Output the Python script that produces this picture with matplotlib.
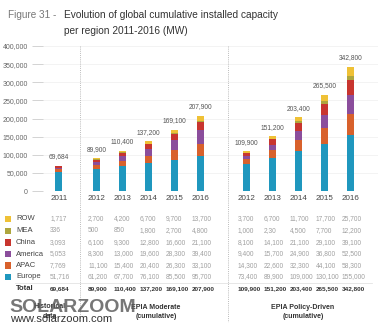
import matplotlib
matplotlib.use("Agg")
import matplotlib.pyplot as plt
import numpy as np
from matplotlib.transforms import blended_transform_factory
from matplotlib.patches import Rectangle

plt.rcParams['font.family'] = ['Liberation Sans', 'DejaVu Sans']

# data (MW)
regions = ["ROW", "MEA", "China", "America", "APAC", "Europe"]
colors = ["#efc136", "#aea63e", "#c8352f", "#8b4e9c", "#d8612c", "#1f97be"]

years_hist = ["2011"]
years_fc = ["2012", "2013", "2014", "2015", "2016"]

hist = {"ROW": [1717], "MEA": [336], "China": [3093], "America": [5053],
        "APAC": [7769], "Europe": [51716]}
hist_total = [69684]

moderate = {"ROW": [2700, 4200, 6700, 9700, 13700],
            "MEA": [500, 850, 1800, 2700, 4800],
            "China": [6100, 9300, 12800, 16600, 21100],
            "America": [8300, 13000, 19600, 28300, 39400],
            "APAC": [11100, 15400, 20400, 26300, 33100],
            "Europe": [61200, 67700, 76100, 85500, 95700]}
moderate_total = [89900, 110400, 137200, 169100, 207900]

policy = {"ROW": [3700, 6700, 11700, 17700, 25700],
          "MEA": [1000, 2300, 4500, 7700, 12200],
          "China": [8100, 14100, 21100, 29100, 39100],
          "America": [9400, 15700, 24900, 36800, 52500],
          "APAC": [14300, 22600, 32300, 44100, 58300],
          "Europe": [73400, 89900, 109000, 130100, 155000]}
policy_total = [109900, 151200, 203400, 265500, 342800]

# shown in the table as printed
mea_policy_labels = ["1,000", "2,30", "4,500", "7,700", "12,200"]

W, H = 382, 325
fig = plt.figure(figsize=(W / 100, H / 100), dpi=100)
fig.patch.set_facecolor("white")

def fx(px): return px / W
def fy(py): return 1 - py / H

ax = fig.add_axes([fx(43), fy(191), (378 - 43) / W, (191 - 46) / H])

groups = [(years_hist, hist, hist_total, -1.46),
          (years_fc, moderate, moderate_total, 0.0),
          (years_fc, policy, policy_total, 5.77)]

bw = 0.25
order = regions[::-1]   # bottom -> top: Europe ... ROW
col = dict(zip(regions, colors))
for yrs, d, tot, off in groups:
    x = off + np.arange(len(yrs))
    bottom = np.zeros(len(yrs))
    for r in order:
        v = np.array(d[r], dtype=float)
        ax.bar(x, v, bw, bottom=bottom, color=col[r], linewidth=0)
        bottom += v
    for xi, t in zip(x, tot):
        ax.annotate(f"{t:,}", (xi, t), xytext=(0, 4), textcoords="offset points",
                    ha="center", va="bottom", fontsize=4.8, color="#555555")

ax.set_xlim(-2.06, 10.83)
ax.set_ylim(0, 400000)
ax.set_yticks(np.arange(0, 400001, 50000))
ax.set_yticklabels([f"{v:,}" for v in range(0, 400001, 50000)], fontsize=5, color="#666666")
ax.tick_params(axis="y", length=8, width=0.6, color="#cccccc", pad=3)
ax.set_xticks([])
for s in ax.spines.values():
    s.set_visible(False)
ax.grid(axis="y", color="#eeeeee", lw=0.5)
ax.set_axisbelow(True)

# dotted separators
for xs in (-0.635, 5.06):
    ax.plot([xs, xs], [400000, 400000 - 400000 * (322 - 46) / 145], ls=(0, (1, 1.2)),
            color="#bbbbbb", lw=0.7, clip_on=False)

# title
fig.text(fx(8), fy(15), "Figure 31 -", fontsize=7.2, color="#777777", va="center")
fig.text(fx(64), fy(15), "Evolution of global cumulative installed capacity",
         fontsize=7.3, color="#333333", va="center")
fig.text(fx(64), fy(31), "per region 2011-2016 (MW)", fontsize=7.3, color="#333333", va="center")

# table
tr = blended_transform_factory(ax.transData, fig.transFigure)
shift = 8.5 / 26
row_y = [219, 230.7, 242.3, 254, 265.5, 277]
total_y = 288.7

for i, r in enumerate(regions):
    fig.patches.append(Rectangle((fx(4.5), fy(row_y[i] + 3.3)), 6.5 / W, 6.5 / H,
                                 transform=fig.transFigure, color=col[r], lw=0))
    fig.text(fx(16), fy(row_y[i]), r, fontsize=5.5, color="#444444", va="center")
fig.text(fx(16), fy(total_y), "Total", fontsize=5.5, color="#333333", va="center",
         fontweight="bold")

for yrs, d, tot, off in groups:
    x = off + np.arange(len(yrs))
    for j, xi in enumerate(x):
        fig.text(xi - shift, fy(199), yrs[j], transform=tr, fontsize=5.8,
                 color="#444444", va="center")
        for i, r in enumerate(regions):
            lab = f"{d[r][j]:,}"
            if d is policy and r == "MEA":
                lab = mea_policy_labels[j]
            fig.text(xi - shift, fy(row_y[i]), lab, transform=tr, fontsize=4.8,
                     color="#a0a0a0", va="center")
        fig.text(xi - shift, fy(total_y), f"{tot[j]:,}", transform=tr, fontsize=4.6,
                 color="#333333", va="center", fontweight="bold")

fig.add_artist(plt.Line2D([fx(15), fx(372)], [fy(283), fy(283)], color="#dddddd", lw=0.5))

# group captions
fig.text(fx(50), fy(307), "Historical", fontsize=5, color="#333333", ha="center",
         va="center", fontweight="bold")
fig.text(fx(50), fy(317), "data", fontsize=5, color="#333333", ha="center",
         va="center", fontweight="bold")
fig.text(fx(156), fy(312), "EPIA Moderate\n(cumulative)", fontsize=5, color="#333333",
         ha="center", va="center", fontweight="bold", linespacing=1.3)
fig.text(fx(303), fy(312), "EPIA Policy-Driven\n(cumulative)", fontsize=5, color="#333333",
         ha="center", va="center", fontweight="bold", linespacing=1.3)

# watermark
fig.text(fx(9), fy(308), "SOLARZOOM", fontsize=14, color="#555555", alpha=0.8,
         fontweight="bold", va="center")
fig.text(fx(10), fy(319), "www.solarzoom.com", fontsize=8, color="#333333", va="center")

fig.savefig("out.png", dpi=100, facecolor="white")
